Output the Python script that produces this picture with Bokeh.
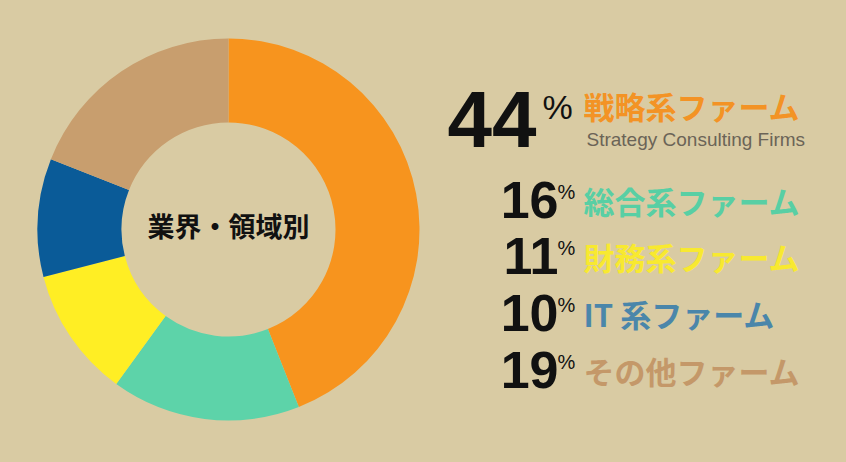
import math
from bokeh.plotting import figure
from bokeh.models import Range1d, ColumnDataSource
from bokeh.core.properties import value
from bokeh.embed import file_html
from bokeh.resources import INLINE

# ---- data ----
categories = ["戦略系ファーム", "総合系ファーム", "財務系ファーム", "IT 系ファーム", "その他ファーム"]
shares = [44, 16, 11, 10, 19]
wedge_colors = ["#F7941E", "#5DD3A9", "#FFEE24", "#0A5B98", "#C89E6E"]
label_colors = ["#F39325", "#58CFA4", "#F8E930", "#4A86AA", "#C49869"]
subtitle = "Strategy Consulting Firms"
center_title = "業界・領域別"

BG = "#D9CBA3"
W, H = 830, 446

def fx(xr):
    return xr

def fy(yr):
    return H - yr

p = figure(width=W, height=H, output_backend="svg", toolbar_location=None,
           x_range=Range1d(0, W), y_range=Range1d(0, H),
           min_border=0, background_fill_color=BG, border_fill_color=BG)
p.axis.visible = False
p.grid.visible = False
p.outline_line_color = None

# donut
total = float(sum(shares))
starts, ends = [], []
cum = 0.0
for s in shares:
    starts.append(math.pi / 2 - cum / total * 2 * math.pi)
    cum += s
    ends.append(math.pi / 2 - cum / total * 2 * math.pi)

src = ColumnDataSource(dict(x=[fx(228)] * len(shares), y=[fy(229)] * len(shares),
                            start=starts, end=ends, color=wedge_colors))
p.annular_wedge(x="x", y="y", inner_radius=107, outer_radius=191,
                inner_radius_units="screen", outer_radius_units="screen",
                start_angle="start", end_angle="end", direction="clock",
                fill_color="color", line_color=None, source=src)

p.text(x=[fx(228)], y=[fy(225)], text=[center_title], text_align="center",
       text_baseline="middle", text_font=value("Noto Sans CJK JP"),
       text_font_style="bold", text_font_size="27px", text_color="#111111")

# numbers
num_text = [str(s) for s in shares]
row_y = [119, 199, 255, 312, 369]
num_x = [536, 558, 558, 558, 558]
num_size = ["80px", "52px", "52px", "52px", "52px"]
pct_x = [542, 557, 557, 557, 557]
pct_y = [106, 191, 247, 304, 361]
pct_size = ["34px", "20px", "20px", "20px", "20px"]
lab_y = [105, 200, 256, 313, 370]

for i in range(len(shares)):
    p.text(x=[fx(num_x[i])], y=[fy(row_y[i])], text=[num_text[i]], text_align="right",
           text_baseline="middle", text_font=value("Liberation Sans"),
           text_font_style="bold", text_font_size=num_size[i], text_color="#111111")
    p.text(x=[fx(pct_x[i])], y=[fy(pct_y[i])], text=["%"], text_align="left",
           text_baseline="middle", text_font=value("Liberation Sans"),
           text_font_size=pct_size[i], text_color="#111111")
    p.text(x=[fx(583)], y=[fy(lab_y[i])], text=[categories[i]], text_align="left",
           text_baseline="middle", text_font=value("Noto Sans CJK JP"),
           text_font_style="bold", text_font_size="31px", text_color=label_colors[i])

p.text(x=[fx(586)], y=[fy(139)], text=[subtitle], text_align="left",
       text_baseline="middle", text_font=value("Liberation Sans"),
       text_font_size="19px", text_color="#6B6457")

html = file_html(p, INLINE)
html = html.replace("<head>", "<head><style>body{background:%s;}</style>" % BG, 1)
open("out.html", "w").write(html)
